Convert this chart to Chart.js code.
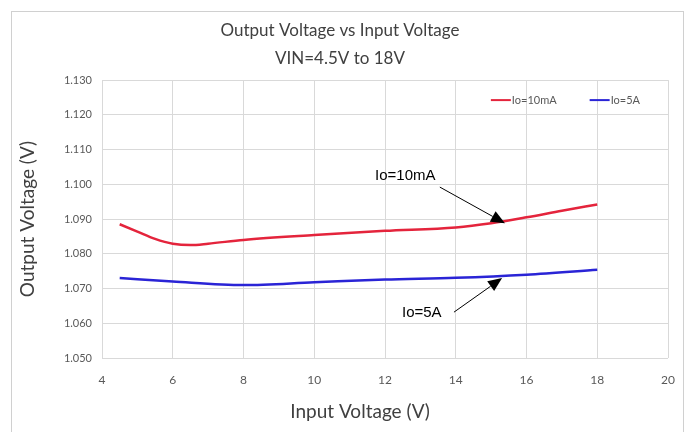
<!DOCTYPE html>
<html>
<head>
<meta charset="utf-8">
<script src="https://cdn.jsdelivr.net/npm/chart.js@4"></script>
<style>
  body { margin: 0; background: #fff; }
  #wrap { position: relative; width: 696px; height: 432px; }
  #frame { position: absolute; left: 11px; top: 11px; width: 673px; height: 430px; border: 1px solid #d0d0d0; box-sizing: border-box; pointer-events: none; }
</style>
</head>
<body>
<div id="wrap">
  <canvas id="chartVout" width="696" height="432"></canvas>
  <div id="frame"></div>
</div>
<script>
// data
const vinRed = [4.5, 5, 5.5, 6, 6.5, 7, 8, 10, 12, 14, 15, 16, 17, 18];
const voutRed = [1.0885, 1.0864, 1.0843, 1.0829, 1.0825, 1.0829, 1.0840, 1.0854, 1.0866, 1.0876, 1.0888, 1.0905, 1.0924, 1.0942];
const vinBlue = [4.5, 6, 8, 10, 12, 14, 16, 18];
const voutBlue = [1.0730, 1.0720, 1.0710, 1.0718, 1.0726, 1.0731, 1.0740, 1.0754];
const seriesNames = ["Io=10mA", "Io=5A"];
const xTitle = "Input Voltage (V)";

// callouts: text position and arrow tail/head in data units
const callouts = [
  { text: "Io=10mA", tx: 11.72, ty: 1.1024, x0: 13.55, y0: 1.0992, x1: 15.39, y1: 1.0888 },
  { text: "Io=5A", tx: 12.48, ty: 1.0630, x0: 13.95, y0: 1.0632, x1: 15.31, y1: 1.0730 },
];

const font = "Lato, 'Open Sans', sans-serif";

const extrasPlugin = {
  id: "extras",
  afterDraw(chart) {
    const ctx = chart.ctx;
    const xs = chart.scales.x, ys = chart.scales.y;
    const area = chart.chartArea;
    ctx.save();

    // arrows + labels
    callouts.forEach(c => {
      const ax = xs.getPixelForValue(c.x0), ay = ys.getPixelForValue(c.y0);
      const bx = xs.getPixelForValue(c.x1), by = ys.getPixelForValue(c.y1);
      const ang = Math.atan2(by - ay, bx - ax);
      const len = 14, half = 6;
      const baseX = bx - len * Math.cos(ang), baseY = by - len * Math.sin(ang);
      ctx.strokeStyle = "#000";
      ctx.lineWidth = 1;
      ctx.beginPath();
      ctx.moveTo(ax, ay);
      ctx.lineTo(baseX, baseY);
      ctx.stroke();
      ctx.fillStyle = "#000";
      ctx.beginPath();
      ctx.moveTo(bx, by);
      ctx.lineTo(baseX + half * Math.sin(ang), baseY - half * Math.cos(ang));
      ctx.lineTo(baseX - half * Math.sin(ang), baseY + half * Math.cos(ang));
      ctx.closePath();
      ctx.fill();
      ctx.font = "15px 'Liberation Sans', Arial, sans-serif";
      ctx.textAlign = "left";
      ctx.textBaseline = "middle";
      ctx.fillText(c.text, xs.getPixelForValue(c.tx), ys.getPixelForValue(c.ty));
    });

    // legend inside the plot, top right
    ctx.font = "11px " + font;
    ctx.textBaseline = "middle";
    ctx.textAlign = "left";
    const ly = area.top + 20;
    let lx = area.right - 28;
    const items = chart.data.datasets.slice().reverse();
    items.forEach(ds => {
      const w = ctx.measureText(ds.label).width;
      lx -= w;
      ctx.fillStyle = "#595959";
      ctx.fillText(ds.label, lx, ly);
      ctx.strokeStyle = ds.borderColor;
      ctx.lineWidth = 2;
      ctx.beginPath();
      ctx.moveTo(lx - 21, ly);
      ctx.lineTo(lx - 1, ly);
      ctx.stroke();
      lx -= 21 + 33;
    });

    // x axis title
    ctx.font = "19px " + font;
    ctx.fillStyle = "#404040";
    ctx.textAlign = "center";
    ctx.fillText(xTitle, chart.width / 2 + 12, area.bottom + 54);
    ctx.restore();
  },
};

new Chart(document.getElementById("chartVout"), {
  type: "line",
  data: {
    datasets: [
      {
        label: seriesNames[0],
        data: vinRed.map((v, i) => ({ x: v, y: voutRed[i] })),
        borderColor: "#e4243c",
        borderWidth: 2.5,
        pointRadius: 0,
        cubicInterpolationMode: "monotone",
      },
      {
        label: seriesNames[1],
        data: vinBlue.map((v, i) => ({ x: v, y: voutBlue[i] })),
        borderColor: "#2a24d6",
        borderWidth: 2.5,
        pointRadius: 0,
        cubicInterpolationMode: "monotone",
      },
    ],
  },
  options: {
    responsive: false,
    animation: false,
    layout: { padding: { left: 12, right: 28, top: 12, bottom: 14 } },
    plugins: {
      title: {
        display: true,
        text: ["Output Voltage vs Input Voltage", "VIN=4.5V to 18V"],
        color: "#404040",
        font: { family: font, size: 17, weight: "normal", lineHeight: 1.65 },
        padding: { top: 4, bottom: 8 },
      },
      legend: { display: false },
      tooltip: { enabled: false },
    },
    scales: {
      x: {
        type: "linear",
        min: 4,
        max: 20,
        ticks: { stepSize: 2, color: "#595959", font: { family: font, size: 12 }, padding: 15 },
        grid: { color: "#d9d9d9", drawTicks: false },
        border: { display: false },
        afterFit(scale) { scale.height = 60; },
      },
      y: {
        min: 1.05,
        max: 1.13,
        ticks: { stepSize: 0.01, color: "#595959", font: { family: font, size: 11 }, padding: 10, callback: v => v.toFixed(3) },
        grid: { color: "#d9d9d9", drawTicks: false },
        border: { display: false },
        title: { display: true, text: "Output Voltage (V)", color: "#404040", font: { family: font, size: 19 }, padding: { bottom: 0 } },
        afterFit(scale) { scale.width = 90; },
      },
    },
  },
  plugins: [extrasPlugin],
});
</script>
</body>
</html>
